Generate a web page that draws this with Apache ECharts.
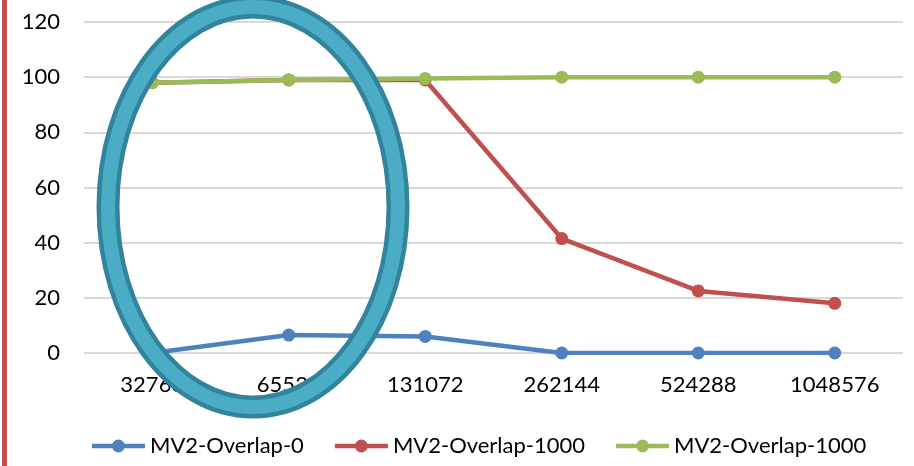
<!DOCTYPE html>
<html>
<head>
<meta charset="utf-8">
<script src="https://cdn.jsdelivr.net/npm/echarts@6/dist/echarts.min.js"></script>
<style>
  html, body { margin: 0; padding: 0; background: #fff; }
  #chart { width: 914px; height: 466px; }
</style>
</head>
<body>
<div id="chart"></div>
<script>
// Buffer sizes on the x axis
const categories = ['32768', '65536', '131072', '262144', '524288', '1048576'];

// Series values (percent)
const overlap0 = [0, 6.5, 6, 0, 0, 0];
const overlap1000a = [98, 99, 99, 41.5, 22.5, 18];
const overlap1000b = [98, 99, 99.5, 100, 100, 100];

// Two series share the same label; a zero-width space keeps their legend entries apart
const seriesNames = ['MV2-Overlap-0', 'MV2-Overlap-1000', 'MV2-Overlap-1000\u200B'];
const seriesColors = ['#4F81BD', '#C0504D', '#9BBB59'];
const seriesData = [overlap0, overlap1000a, overlap1000b];

const FONT = 'Lato, "Open Sans", sans-serif';

// Legend key: a thick line with a round marker in the middle
const LEGEND_ICON = 'path://M0,4.25 H53 V8.75 H0 Z M20,6.5 a6.5,6.5 0 1,1 13,0 a6.5,6.5 0 1,1 -13,0 Z';

const chart = echarts.init(document.getElementById('chart'), null, { renderer: 'canvas' });

chart.setOption({
  animation: false,
  backgroundColor: '#ffffff',
  grid: { left: 84, right: 11, top: 22, bottom: 113, containLabel: false },
  xAxis: {
    type: 'category',
    data: categories,
    boundaryGap: true,
    axisLine: { show: false },
    axisTick: { show: false },
    axisLabel: { color: '#000', fontFamily: FONT, fontSize: 22, margin: 21 }
  },
  yAxis: {
    type: 'value',
    min: 0,
    max: 120,
    interval: 20,
    axisLine: { show: false },
    axisTick: { show: false },
    axisLabel: { color: '#000', fontFamily: FONT, fontSize: 22, margin: 24 },
    splitLine: { lineStyle: { color: '#D9D9D9', width: 2 } }
  },
  legend: {
    left: 92,
    top: 435,
    padding: 0,
    itemWidth: 53,
    itemHeight: 13,
    itemGap: 31,
    textStyle: { color: '#000', fontFamily: FONT, fontSize: 22 },
    data: seriesNames.map(n => ({ name: n, icon: LEGEND_ICON }))
  },
  series: seriesData.map((d, i) => ({
    name: seriesNames[i],
    type: 'line',
    data: d,
    symbol: 'circle',
    symbolSize: 13,
    showSymbol: true,
    color: seriesColors[i],
    lineStyle: { width: 4.5, color: seriesColors[i] },
    itemStyle: { color: seriesColors[i] },
    z: 2 + i
  })),
  graphic: [
    {
      type: 'rect',
      shape: { x: 2, y: 0, width: 5, height: 466 },
      style: { fill: '#C0504D' },
      z: 50
    },
    {
      type: 'ellipse',
      shape: { cx: 253, cy: 207, rx: 145, ry: 200 },
      style: { fill: 'none', stroke: '#31849B', lineWidth: 23 },
      z: 100
    },
    {
      type: 'ellipse',
      shape: { cx: 253, cy: 207, rx: 145, ry: 200 },
      style: { fill: 'none', stroke: '#4BACC6', lineWidth: 14 },
      z: 101
    }
  ]
});
</script>
</body>
</html>
